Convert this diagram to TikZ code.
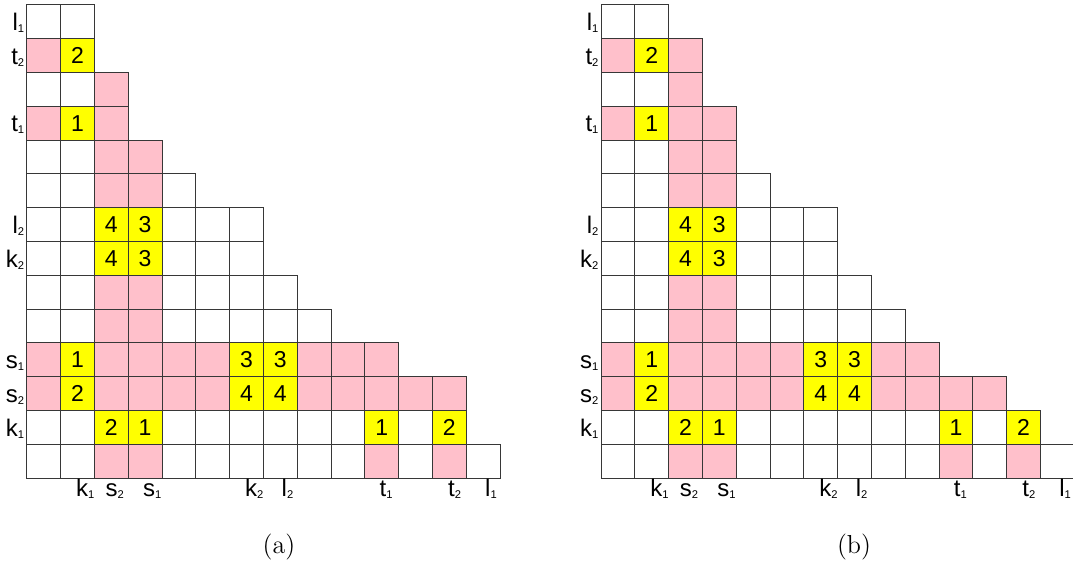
\documentclass[tikz,border=0pt]{standalone}
\usepackage{fontspec}
\newfontfamily\arialf{Liberation Sans}
\definecolor{cellp}{RGB}{255,192,203}
\definecolor{celly}{RGB}{255,255,0}
\definecolor{cellw}{RGB}{255,255,255}
\definecolor{gridc}{RGB}{55,55,55}
\newcommand\cs{33.8}
\newcommand\ytop{4.8}
\newcommand\sublab[2]{#1\raisebox{-1pt}{\fontsize{5.6}{6}\selectfont #2}}
% #1 = x of left edge, #2 = rows (colour codes), #3 = name prefix
\newcommand\gridpanel[3]{%
  \foreach \row [count=\ri from 0] in {#2} {
    \foreach \s [count=\cj from 0] in \row {
      \fill[fill=cell\s] ({#1+\cj*\cs},{\ytop+\ri*\cs}) rectangle ++(\cs,\cs);
    }
  }
  \foreach \row [count=\ri from 0] in {#2} {
    \foreach \s [count=\cj from 0] in \row {
      \draw[gridline] ({#1+\cj*\cs},{\ytop+\ri*\cs}) rectangle ++(\cs,\cs);
    }
  }
  \foreach \nm/\ri/\cj/\v in {1/1/1/2, 2/3/1/1, 3/6/2/4, 4/6/3/3, 5/7/2/4, 6/7/3/3,
      7/10/1/1, 8/10/6/3, 9/10/7/3, 10/11/1/2, 11/11/6/4, 12/11/7/4,
      13/12/2/2, 14/12/3/1, 15/12/10/1, 16/12/12/2}
    \node[numtxt] (#3n\nm) at ({#1+(\cj+0.5)*\cs},{\ytop+(\ri+0.5)*\cs}) {\v};
  \foreach \nm/\t/\u/\ri in {l1/l/1/0, t2/t/2/1, t1/t/1/3, l2/l/2/6,
      k2/k/2/7, s1/s/1/10, s2/s/2/11, k1/k/1/12}
    \node[lab, anchor=base east] (#3L\nm) at ({#1-2.2},{\ytop+(\ri+0.5)*\cs+8.8}) {\sublab{\t}{\u}};
  \foreach \nm/\t/\u/\o in {k1/k/1/49, s2/s/2/78.5, s1/s/1/116, k2/k/2/218,
      l2/l/2/254.5, t1/t/1/352.5, t2/t/2/421, l1/l/1/458}
    \node[lab, anchor=base west] (#3B\nm) at ({#1+\o},496.5) {\sublab{\t}{\u}};
}
\begin{document}
\begin{tikzpicture}[x=0.5pt,y=-0.5pt,
  gridline/.style={draw=gridc, line width=0.5pt},
  numtxt/.style={font=\arialf\fontsize{11.5}{13}\selectfont, inner sep=0pt},
  lab/.style={font=\arialf\fontsize{12}{14}\selectfont, inner sep=0pt},
  capt/.style={font=\fontsize{13}{15}\selectfont, inner sep=0pt}]
\useasboundingbox (0,0) rectangle (1073,564);
\gridpanel{26.8}{{w,w},{p,y},{w,w,p},{p,y,p},{w,w,p,p},{w,w,p,p,w},{w,w,y,y,w,w,w},{w,w,y,y,w,w,w},{w,w,p,p,w,w,w,w},{w,w,p,p,w,w,w,w,w},{p,y,p,p,p,p,y,y,p,p,p},{p,y,p,p,p,p,y,y,p,p,p,p,p},{w,w,y,y,w,w,w,w,w,w,y,w,y},{w,w,p,p,w,w,w,w,w,w,p,w,p,w}}{a}
\gridpanel{601}{{w,w},{p,y,p},{w,w,p},{p,y,p,p},{w,w,p,p},{w,w,p,p,w},{w,w,y,y,w,w,w},{w,w,y,y,w,w,w},{w,w,p,p,w,w,w,w},{w,w,p,p,w,w,w,w,w},{p,y,p,p,p,p,y,y,p,p},{p,y,p,p,p,p,y,y,p,p,p,p},{w,w,y,y,w,w,w,w,w,w,y,w,y},{w,w,p,p,w,w,w,w,w,w,p,w,p,w}}{b}
\node[capt] (capa) at (279,547) {(a)};
\node[capt] (capb) at (854,547) {(b)};
\end{tikzpicture}
\end{document}
